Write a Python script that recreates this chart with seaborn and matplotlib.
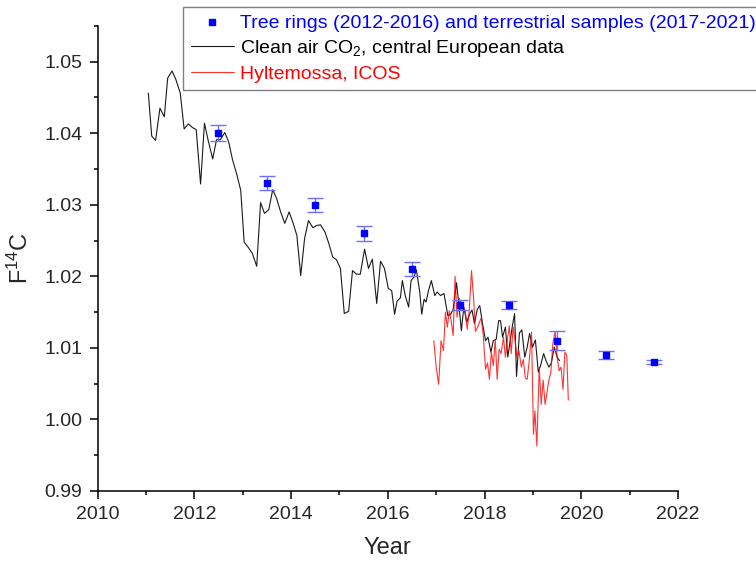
import matplotlib
matplotlib.use("Agg")
import matplotlib.pyplot as plt
import pandas as pd
import seaborn as sns
from matplotlib.ticker import MultipleLocator, FormatStrFormatter


# Clean air CO2, central European data
CLEAN_AIR_YEAR = [
    2011.05, 2011.12, 2011.20, 2011.29, 2011.38, 2011.45, 2011.54, 2011.62, 2011.71, 2011.79,
    2011.88, 2011.96, 2012.04, 2012.13, 2012.21, 2012.29, 2012.38, 2012.46, 2012.54, 2012.63,
    2012.71, 2012.79, 2012.88, 2012.96, 2013.03, 2013.12, 2013.20, 2013.29, 2013.37, 2013.45,
    2013.54, 2013.62, 2013.70, 2013.78, 2013.87, 2013.96, 2014.04, 2014.12, 2014.20, 2014.28,
    2014.36, 2014.45, 2014.53, 2014.61, 2014.70, 2014.78, 2014.86, 2014.94, 2015.02, 2015.10,
    2015.19, 2015.27, 2015.35, 2015.43, 2015.52, 2015.60, 2015.68, 2015.77, 2015.85, 2015.93,
    2016.01, 2016.08, 2016.14, 2016.19, 2016.26, 2016.30, 2016.36, 2016.43, 2016.48, 2016.54,
    2016.59, 2016.66, 2016.70, 2016.75, 2016.79, 2016.84, 2016.90, 2016.97, 2017.02, 2017.09,
    2017.16, 2017.24, 2017.30, 2017.35, 2017.42, 2017.48, 2017.52, 2017.57, 2017.63, 2017.69,
    2017.74, 2017.79, 2017.85, 2017.90, 2017.96, 2018.02, 2018.07, 2018.13, 2018.18, 2018.24,
    2018.29, 2018.33, 2018.37, 2018.43, 2018.48, 2018.54, 2018.58, 2018.62, 2018.66, 2018.72,
    2018.77, 2018.83, 2018.88, 2018.93, 2018.99, 2019.05, 2019.11, 2019.16, 2019.22, 2019.27,
    2019.33, 2019.38, 2019.44, 2019.50, 2019.55,
]
CLEAN_AIR_F14C = [
    1.0456, 1.0396, 1.0390, 1.0435, 1.0423, 1.0477, 1.0487, 1.0475, 1.0456, 1.0406,
    1.0413, 1.0408, 1.0405, 1.0329, 1.0414, 1.0389, 1.0364, 1.0391, 1.0391, 1.0401,
    1.0388, 1.0363, 1.0342, 1.0320, 1.0248, 1.0240, 1.0232, 1.0214, 1.0303, 1.0288,
    1.0293, 1.0321, 1.0309, 1.0291, 1.0274, 1.0290, 1.0275, 1.0257, 1.0201, 1.0253,
    1.0278, 1.0268, 1.0271, 1.0272, 1.0262, 1.0246, 1.0227, 1.0223, 1.0211, 1.0148,
    1.0151, 1.0208, 1.0203, 1.0203, 1.0238, 1.0211, 1.0224, 1.0162, 1.0221, 1.0211,
    1.0183, 1.0180, 1.0147, 1.0165, 1.0170, 1.0194, 1.0173, 1.0157, 1.0194, 1.0199,
    1.0209, 1.0178, 1.0147, 1.0168, 1.0164, 1.0180, 1.0194, 1.0173, 1.0178, 1.0173,
    1.0176, 1.0145, 1.0147, 1.0154, 1.0191, 1.0152, 1.0124, 1.0157, 1.0136, 1.0147,
    1.0153, 1.0134, 1.0154, 1.0159, 1.0133, 1.0110, 1.0115, 1.0094, 1.0110, 1.0112,
    1.0138, 1.0138, 1.0115, 1.0129, 1.0087, 1.0115, 1.0133, 1.0148, 1.0060, 1.0121,
    1.0125, 1.0087, 1.0101, 1.0120, 1.0101, 1.0111, 1.0066, 1.0076, 1.0092, 1.0082,
    1.0073, 1.0079, 1.0101, 1.0087, 1.0082,
]

# Hyltemossa, ICOS
ICOS_YEAR = [
    2016.95, 2017.00, 2017.05, 2017.10, 2017.15, 2017.19, 2017.23, 2017.27, 2017.31, 2017.35,
    2017.39, 2017.43, 2017.48, 2017.52, 2017.56, 2017.60, 2017.64, 2017.68, 2017.73, 2017.77,
    2017.81, 2017.85, 2017.89, 2017.93, 2017.97, 2018.02, 2018.06, 2018.10, 2018.14, 2018.18,
    2018.22, 2018.26, 2018.30, 2018.34, 2018.39, 2018.43, 2018.47, 2018.51, 2018.55, 2018.59,
    2018.63, 2018.67, 2018.71, 2018.76, 2018.80, 2018.84, 2018.88, 2018.92, 2018.97, 2019.01,
    2019.04, 2019.08, 2019.13, 2019.17, 2019.21, 2019.25, 2019.29, 2019.33, 2019.37, 2019.41,
    2019.46, 2019.50, 2019.54, 2019.58, 2019.62, 2019.66, 2019.70, 2019.73,
]
ICOS_F14C = [
    1.0110, 1.0073, 1.0049, 1.0110, 1.0096, 1.0150, 1.0129, 1.0152, 1.0138, 1.0117,
    1.0200, 1.0143, 1.0169, 1.0152, 1.0157, 1.0152, 1.0126, 1.0150, 1.0208, 1.0172,
    1.0123, 1.0128, 1.0135, 1.0142, 1.0119, 1.0070, 1.0079, 1.0056, 1.0094, 1.0075,
    1.0112, 1.0056, 1.0098, 1.0092, 1.0115, 1.0087, 1.0110, 1.0131, 1.0092, 1.0129,
    1.0110, 1.0087, 1.0096, 1.0073, 1.0084, 1.0058, 1.0056, 1.0080, 1.0122, 0.9979,
    1.0012, 0.9963, 1.0073, 1.0021, 1.0055, 1.0021, 1.0038, 1.0055, 1.0066, 1.0106,
    1.0123, 1.0087, 1.0068, 1.0073, 1.0042, 1.0094, 1.0089, 1.0027,
]

# Tree rings (2012-2016) and terrestrial samples (2017-2021)
SAMPLE_YEAR = [2012.5, 2013.5, 2014.5, 2015.5, 2016.5, 2017.5, 2018.5, 2019.5, 2020.5, 2021.5]
SAMPLE_F14C = [1.040, 1.033, 1.030, 1.026, 1.021, 1.016, 1.016, 1.011, 1.009, 1.008]
SAMPLE_ERR = [0.0011, 0.0010, 0.0010, 0.0010, 0.0010, 0.0007, 0.0006, 0.0013, 0.0006, 0.0003]

LABEL_SAMPLES = "Tree rings (2012-2016) and terrestrial samples (2017-2021)"
LABEL_CLEAN_AIR = r"Clean air CO$\mathregular{_2}$, central European data"
LABEL_ICOS = "Hyltemossa, ICOS"


def setup_style():
    sns.set_theme(style="ticks")
    plt.rcParams["font.family"] = ["Liberation Sans", "DejaVu Sans"]
    plt.rcParams["mathtext.fontset"] = "custom"
    plt.rcParams["mathtext.rm"] = "Liberation Sans"
    plt.rcParams["figure.facecolor"] = "white"
    plt.rcParams["axes.facecolor"] = "white"


def main():
    setup_style()

    clean_air = pd.DataFrame({"year": CLEAN_AIR_YEAR, "f14c": CLEAN_AIR_F14C})
    icos = pd.DataFrame({"year": ICOS_YEAR, "f14c": ICOS_F14C})

    fig, ax = plt.subplots(figsize=(7.56, 5.63), dpi=100)
    fig.subplots_adjust(left=0.129, right=0.897, bottom=0.128, top=0.954)

    samples = ax.errorbar(
        SAMPLE_YEAR, SAMPLE_F14C, yerr=SAMPLE_ERR,
        fmt="s", color="#0000ff", markersize=5, ecolor="#6f6fff",
        elinewidth=1.0, capsize=6, capthick=1.0, zorder=4,
    )
    sns.lineplot(
        data=clean_air, x="year", y="f14c", estimator=None, sort=False,
        color="#1a1a1a", linewidth=0.8, ax=ax, zorder=2,
    )
    sns.lineplot(
        data=icos, x="year", y="f14c", estimator=None, sort=False,
        color="#ff0000", alpha=0.8, linewidth=0.8, ax=ax, zorder=3,
    )
    clean_line, icos_line = ax.get_lines()[-2:]

    ax.set_xlim(2010, 2022)
    ax.set_ylim(0.99, 1.055)
    ax.xaxis.set_major_locator(MultipleLocator(2))
    ax.xaxis.set_minor_locator(MultipleLocator(1))
    ax.yaxis.set_major_locator(MultipleLocator(0.01))
    ax.yaxis.set_minor_locator(MultipleLocator(0.005))
    ax.yaxis.set_major_formatter(FormatStrFormatter("%.2f"))

    ax.tick_params(which="major", length=6, width=1.1, labelsize=14, color="black", pad=5)
    ax.tick_params(which="minor", length=3, width=1.1, color="black")
    for side in ["left", "bottom"]:
        ax.spines[side].set_linewidth(1.1)
        ax.spines[side].set_color("black")
    sns.despine(ax=ax)

    ax.set_xlabel("Year", fontsize=17, labelpad=10)
    ax.set_ylabel(r"F$\mathregular{^{14}}$C", fontsize=17, labelpad=8)

    legend = ax.legend(
        [samples.lines[0], clean_line, icos_line],
        [LABEL_SAMPLES, LABEL_CLEAN_AIR, LABEL_ICOS],
        loc="upper left",
        bbox_to_anchor=(183 / 756, 1 - 7 / 563), bbox_transform=fig.transFigure,
        fontsize=14, frameon=True, fancybox=False, edgecolor="#808080",
        framealpha=1, borderpad=0.4, labelspacing=0.3, handlelength=2.2,
        handletextpad=0.35, borderaxespad=0,
    )
    legend.get_frame().set_linewidth(1.0)
    for text, color in zip(legend.get_texts(), ["#0000ff", "black", "#ff0000"]):
        text.set_color(color)

    fig.savefig("out.png", dpi=100)
    plt.close(fig)


if __name__ == "__main__":
    main()
